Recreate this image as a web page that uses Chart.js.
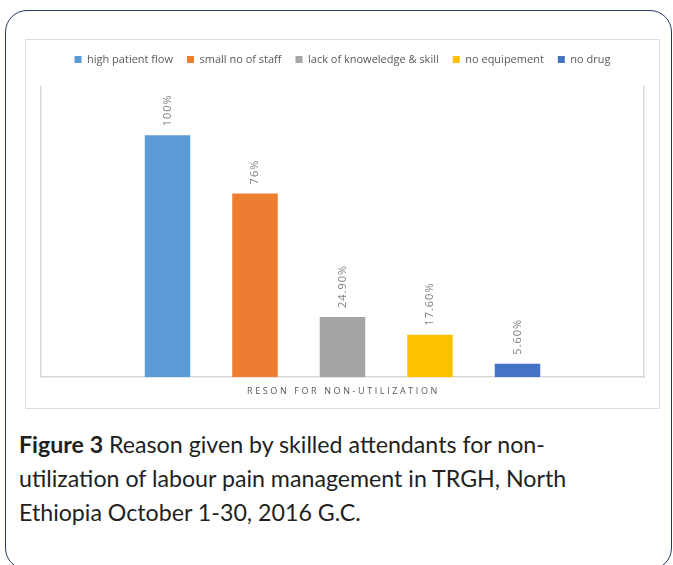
<!DOCTYPE html>
<html>
<head>
<meta charset="utf-8">
<script src="https://cdn.jsdelivr.net/npm/chart.js@4"></script>
<style>
  html, body { margin: 0; padding: 0; background: #fff; width: 673px; height: 565px; overflow: hidden; }
  #outer { position: absolute; left: 5px; top: 10px; width: 667px; height: 560px; border: 1.5px solid #253b60; border-radius: 22px; box-sizing: border-box; }
  #frame { position: absolute; left: 25px; top: 39px; width: 635px; height: 370px; border: 1px solid #dedede; box-sizing: border-box; }
  #frame canvas { display: block; }
  #caption { position: absolute; left: 19px; top: 427px; font-family: Lato, sans-serif; font-size: 23.2px; line-height: 34px; color: #231f20; white-space: nowrap; }
  #caption b { font-weight: 700; }
</style>
</head>
<body>
<div id="outer"></div>
<div id="frame"><canvas id="c" width="633" height="368"></canvas></div>
<div id="caption"><b>Figure 3</b> Reason given by skilled attendants for non-<br>utilization of labour pain management in TRGH, North<br>Ethiopia October 1-30, 2016 G.C.</div>
<script>
const categories = ["RESON FOR NON-UTILIZATION"];
const seriesNames = ["high patient flow", "small no of staff", "lack of knoweledge & skill", "no equipement", "no drug"];
const seriesValues = [100, 76, 24.9, 17.6, 5.6];
const valueLabels = ["100%", "76%", "24.90%", "17.60%", "5.60%"];
const seriesColors = ["#5b9bd5", "#ed7d31", "#a5a5a5", "#ffc000", "#4472c4"];

const textFont = "'Open Sans', 'DejaVu Sans', sans-serif";

const datasets = seriesNames.map((name, i) => ({
  label: name,
  data: [seriesValues[i]],
  backgroundColor: seriesColors[i],
  borderWidth: 0,
  categoryPercentage: 0.7255,
  barPercentage: 0.52
}));

const labelsPlugin = {
  id: 'valueLabels',
  beforeLayout(chart) {
    const lg = chart.legend;
    if (lg && !lg._patched) {
      const orig = lg.fit;
      lg.fit = function () { orig.call(this); this.height = 47; };
      lg._patched = true;
    }
  },
  afterDatasetsDraw(chart) {
    const ctx = chart.ctx;
    ctx.save();
    ctx.fillStyle = '#7f7f7f';
    ctx.font = "11px " + textFont;
    ctx.letterSpacing = '1px';
    ctx.textAlign = 'left';
    ctx.textBaseline = 'middle';
    chart.data.datasets.forEach((ds, i) => {
      const meta = chart.getDatasetMeta(i);
      meta.data.forEach((bar) => {
        ctx.save();
        ctx.translate(bar.x, bar.y - 9);
        ctx.rotate(-Math.PI / 2);
        ctx.fillText(valueLabels[i], 0, 0);
        ctx.restore();
      });
    });
    ctx.restore();
  },
  afterDraw(chart) {
    const ctx = chart.ctx;
    const xs = chart.scales.x;
    ctx.save();
    ctx.fillStyle = '#595959';
    ctx.font = "9px " + textFont;
    ctx.letterSpacing = '2.6px';
    ctx.textAlign = 'center';
    ctx.textBaseline = 'middle';
    categories.forEach((c, i) => {
      ctx.fillText(c, xs.getPixelForTick(i) + 1, chart.chartArea.bottom + 14);
    });
    ctx.restore();
  }
};

new Chart(document.getElementById('c'), {
  type: 'bar',
  data: { labels: categories, datasets },
  options: {
    responsive: false,
    animation: false,
    devicePixelRatio: 1,
    layout: { padding: { top: 0, left: 15, right: 15, bottom: 2 } },
    plugins: {
      legend: {
        position: 'top',
        labels: {
          boxWidth: 7, boxHeight: 7, padding: 14,
          color: '#595959',
          font: { size: 11, family: textFont }
        }
      },
      tooltip: { enabled: false }
    },
    scales: {
      x: {
        grid: { display: false, drawTicks: false },
        border: { display: true, color: '#d9d9d9', width: 1.5 },
        ticks: { color: 'transparent', font: { size: 9 }, padding: 9 }
      },
      y: {
        min: 0, max: 120,
        grid: { display: false, drawTicks: false },
        border: { display: true, color: '#d9d9d9', width: 1.5 },
        ticks: { display: false }
      },
      y2: {
        position: 'right',
        min: 0, max: 1,
        grid: { display: false, drawTicks: false },
        border: { display: true, color: '#d9d9d9', width: 1.5 },
        ticks: { display: false }
      }
    }
  },
  plugins: [labelsPlugin]
});
</script>
</body>
</html>
